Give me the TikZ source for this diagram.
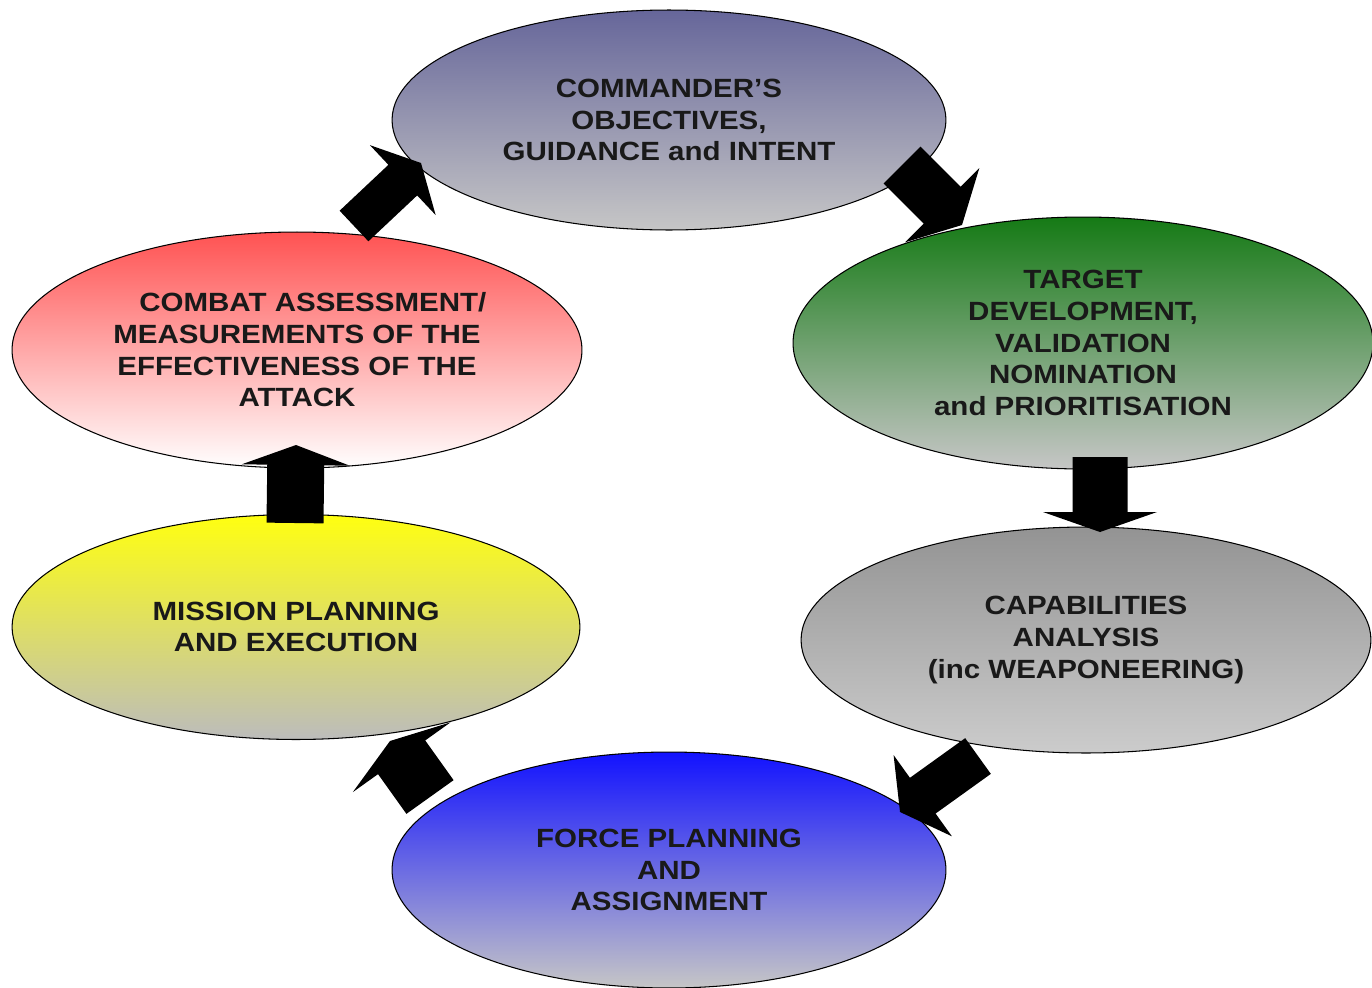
\documentclass[tikz,border=0pt]{standalone}
\usepackage{fontspec}
\setmainfont{Liberation Sans}[FakeStretch=1.12]
\usetikzlibrary{shapes.geometric,calc}
\definecolor{cmdtop}{HTML}{66669A}
\definecolor{grntop}{HTML}{157A15}
\definecolor{redtop}{HTML}{FF5252}
\definecolor{yeltop}{HTML}{FFFF10}
\definecolor{blutop}{HTML}{1212FF}
\definecolor{graytop}{HTML}{939393}
\definecolor{lowgray}{HTML}{C6C6C6}
\tikzset{
  stage/.style={ellipse, draw=black, line width=0.6pt, inner sep=0pt, align=center,
    font=\fontsize{15}{18}\selectfont\bfseries, text=black!90},
  arrowfill/.style={fill=black}
}
\newcommand{\fatarrow}[5]{%
  \coordinate (hb) at ($(#2)!#5!(#1)$);
  \fill[arrowfill] ($(#1)!#3!90:(#2)$) -- ($(hb)!#3!-90:(#1)$) -- ($(hb)!#4!-90:(#1)$) -- (#2)
    -- ($(hb)!#4!90:(#1)$) -- ($(hb)!#3!90:(#1)$) -- ($(#1)!#3!-90:(#2)$) -- cycle;
}
\begin{document}
\begin{tikzpicture}[x=0.02cm,y=-0.02cm]
\useasboundingbox (0,0) rectangle (1372,987);
\node[stage, minimum width=11.08cm, minimum height=4.4cm, top color=cmdtop, bottom color=lowgray] (cmd) at (669,120)
  {COMMANDER'S\\OBJECTIVES,\\GUIDANCE and INTENT};
\node[stage, minimum width=11.6cm, minimum height=5.04cm, top color=grntop, bottom color=lowgray] (tgt) at (1083,343)
  {TARGET\\DEVELOPMENT,\\VALIDATION\\NOMINATION\\and PRIORITISATION};
\node[stage, minimum width=11.4cm, minimum height=4.52cm, top color=graytop, bottom color=lowgray!90!white] (cap) at (1086,640)
  {CAPABILITIES\\ANALYSIS\\(inc WEAPONEERING)};
\node[stage, minimum width=11.08cm, minimum height=4.72cm, top color=blutop, bottom color=lowgray] (frc) at (669,870)
  {FORCE PLANNING\\AND\\ASSIGNMENT};
\node[stage, minimum width=11.36cm, minimum height=4.5cm, top color=yeltop, bottom color=lowgray!95!black] (msn) at (296,627)
  {MISSION PLANNING\\AND EXECUTION};
\node[stage, minimum width=11.4cm, minimum height=4.72cm, top color=redtop, bottom color=white] (cba) at (297,350)
  {\hspace*{1.2em}COMBAT ASSESSMENT/\\MEASUREMENTS OF THE\\EFFECTIVENESS OF THE\\ATTACK};
% arrow end points
\coordinate (a1s) at (902,165);  \coordinate (a1e) at (962,225);
\coordinate (a2s) at (1100,457); \coordinate (a2e) at (1100,532);
\coordinate (a3s) at (978,756);  \coordinate (a3e) at (900,812);
\coordinate (a4s) at (430,797);  \coordinate (a4e) at (390,741);
\coordinate (a5s) at (295,523);  \coordinate (a5e) at (296,445);
\coordinate (a6s) at (354,226);  \coordinate (a6e) at (421,163);
\fatarrow{a1s}{a1e}{0.52cm}{1.05cm}{0.56cm}
\fatarrow{a2s}{a2e}{0.55cm}{1.14cm}{0.4cm}
\fatarrow{a3s}{a3e}{0.44cm}{1.0cm}{0.56cm}
\fatarrow{a4s}{a4e}{0.58cm}{1.2cm}{0.4cm}
\fatarrow{a5s}{a5e}{0.57cm}{1.08cm}{0.4cm}
\fatarrow{a6s}{a6e}{0.42cm}{0.96cm}{0.5cm}
\end{tikzpicture}
\end{document}
